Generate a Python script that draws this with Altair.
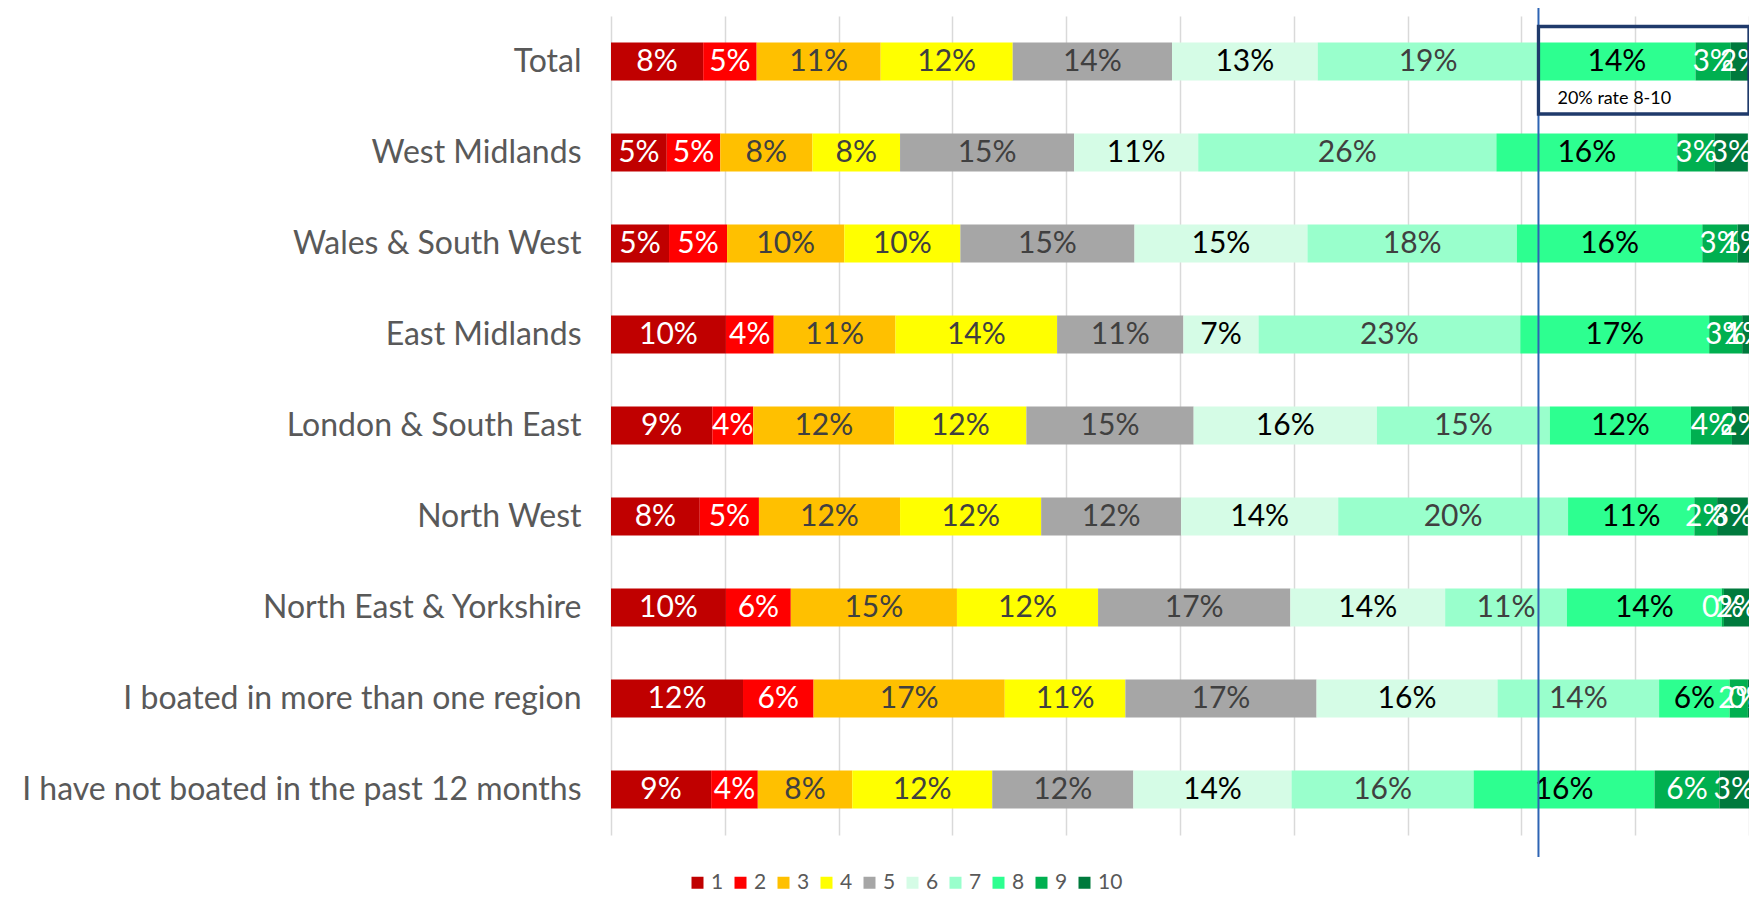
import altair as alt
import pandas as pd

categories = [
    "Total",
    "West Midlands",
    "Wales & South West",
    "East Midlands",
    "London & South East",
    "North West",
    "North East & Yorkshire",
    "I boated in more than one region",
    "I have not boated in the past 12 months",
]
ratings = ["1", "2", "3", "4", "5", "6", "7", "8", "9", "10"]

# percentage of respondents giving each rating 1..10, per category
total = [8.1, 4.7, 10.9, 11.6, 14.0, 12.8, 19.4, 13.8, 3.1, 1.7]
west_midlands = [4.9, 4.7, 8.1, 7.7, 15.3, 10.9, 26.2, 15.9, 3.3, 2.9]
wales_sw = [5.1, 5.1, 10.3, 10.2, 15.3, 15.2, 18.4, 16.3, 3.1, 1.0]
east_midlands = [10.1, 4.2, 10.7, 14.2, 11.1, 6.6, 23.0, 16.6, 2.9, 0.6]
london_se = [8.9, 3.6, 12.4, 11.6, 14.7, 16.1, 15.2, 12.4, 3.6, 1.6]
north_west = [7.8, 5.2, 12.4, 12.4, 12.3, 13.8, 20.2, 11.1, 2.0, 2.7]
ne_yorkshire = [10.1, 5.7, 14.6, 12.4, 16.9, 13.6, 10.7, 13.6, 0.2, 2.2]
more_than_one = [11.6, 6.2, 16.8, 10.6, 16.8, 15.9, 14.2, 6.2, 1.6, 0.2]
not_boated = [8.8, 4.1, 8.3, 12.3, 12.4, 13.9, 16.0, 15.9, 5.7, 2.6]

series = [total, west_midlands, wales_sw, east_midlands, london_se,
          north_west, ne_yorkshire, more_than_one, not_boated]

colors = ["#C00000", "#FF0000", "#FFC000", "#FFFF00", "#A6A6A6",
          "#D5FCE6", "#99FFCC", "#2DFF90", "#00B050", "#007A3D"]
label_colors = ["#FFFFFF", "#FFFFFF", "#404040", "#404040", "#404040",
                "#000000", "#404040", "#000000", "#FFFFFF", "#FFFFFF"]

annotation_text = "20% rate 8-10"

rows = []
for cat, vals in zip(categories, series):
    cum = 0.0
    for r, v, lc in zip(ratings, vals, label_colors):
        rows.append({
            "category": cat, "rating": r, "value": v,
            "start": cum, "end": cum + v, "mid": cum + v / 2,
            "label": f"{round(v):d}%", "lc": lc,
        })
        cum += v
df = pd.DataFrame(rows)

line_x = sum(total[:7])
ann = pd.DataFrame({"x": [line_x], "x2": [100.0], "text": [annotation_text]})

FONT = "Lato"

y_enc = alt.Y(
    "category:N", sort=categories, title=None,
    scale=alt.Scale(paddingInner=0.58, paddingOuter=0.29),
    axis=alt.Axis(domain=False, ticks=False, labelPadding=30, labelFontSize=32,
                  labelColor="#595959", labelFont=FONT, labelLimit=800, grid=False),
)
x_enc = alt.X(
    "start:Q", title=None,
    scale=alt.Scale(domain=[0, 100], nice=False, zero=True),
    axis=alt.Axis(values=list(range(0, 101, 10)), labels=False, ticks=False,
                  domain=False, grid=True, gridColor="#D9D9D9", gridWidth=1.5),
)

bars = alt.Chart(df).mark_bar().encode(
    x=x_enc,
    x2="end:Q",
    y=y_enc,
    color=alt.Color(
        "rating:N", sort=ratings,
        scale=alt.Scale(domain=ratings, range=colors),
        legend=alt.Legend(
            title=None, orient="none", legendX=76, legendY=856,
            direction="horizontal", symbolType="square", symbolSize=144,
            symbolStrokeWidth=0, labelFontSize=21, labelFont=FONT,
            labelColor="#595959", labelOffset=3, columnPadding=6, padding=0,
        ),
    ),
)

labels = alt.Chart(df).mark_text(font=FONT, fontSize=30, baseline="middle", align="center").encode(
    x="mid:Q",
    y=alt.Y("category:N", sort=categories),
    text="label:N",
    color=alt.Color("lc:N", scale=None),
)

vline = alt.Chart(ann).mark_rule(color="#2E64B4", strokeWidth=2).encode(
    x="x:Q", y=alt.value(-8), y2=alt.value(841),
)

box = alt.Chart(ann).mark_rect(fill="#FFFFFF", fillOpacity=0, stroke="#1F3A6B", strokeWidth=3.3).encode(
    x="x:Q", x2="x2:Q", y=alt.value(10.5), y2=alt.value(98),
)

box_text = alt.Chart(ann).mark_text(font=FONT, fontSize=18, align="left", baseline="alphabetic",
                                    dx=19, color="#000000").encode(
    x="x:Q", y=alt.value(88), text="text:N",
)

chart = alt.layer(bars, labels, vline, box, box_text).properties(
    width=1138, height=819,
    background="#FFFFFF",
    autosize=alt.AutoSizeParams(type="none"),
    padding={"left": 603, "top": 8, "right": 0, "bottom": 56},
).configure_view(stroke=None)

chart.save("out.html", embed_options={"renderer": "svg", "actions": False})
